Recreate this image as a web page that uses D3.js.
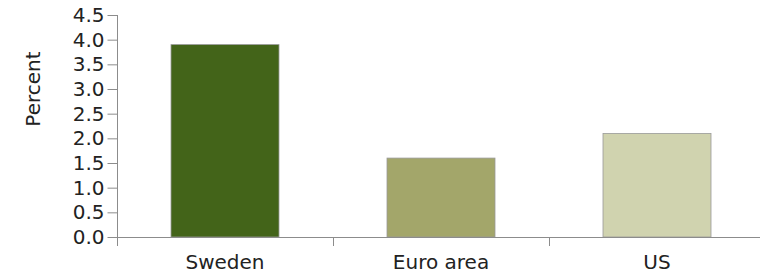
<!DOCTYPE html>
<html>
<head>
<meta charset="utf-8">
<script src="https://cdn.jsdelivr.net/npm/d3@7"></script>
<style>
  body { margin: 0; background: #fff; }
  text { font-family: "DejaVu Sans", Verdana, sans-serif; fill: #222; }
</style>
</head>
<body>
<div id="chart"></div>
<script>
var categories = ["Sweden", "Euro area", "US"];
var values = [3.9, 1.6, 2.1];
var colors = ["#436419", "#a3a66a", "#d0d3af"];
var yTicks = [0, 0.5, 1, 1.5, 2, 2.5, 3, 3.5, 4, 4.5];

var width = 760, height = 274;
var axisColor = "#8c8c8c";

var svg = d3.select("#chart").append("svg")
  .attr("width", width)
  .attr("height", height);

var x = d3.scaleBand()
  .domain(categories)
  .range([117, 765]);

var y = d3.scaleLinear()
  .domain([0, 4.5])
  .range([237, 15]);

var barW = x.bandwidth() * 0.5;

// bars
svg.selectAll("rect.bar")
  .data(values)
  .enter().append("rect")
  .attr("class", "bar")
  .attr("x", function(d, i) { return x(categories[i]) + x.bandwidth() / 2 - barW / 2; })
  .attr("y", function(d) { return y(d); })
  .attr("width", barW)
  .attr("height", function(d) { return y(0) - y(d); })
  .attr("fill", function(d, i) { return colors[i]; })
  .attr("stroke", "#9a9a9a")
  .attr("stroke-width", 0.8);

// y axis
var yAxis = svg.append("g")
  .attr("transform", "translate(117.5,0)")
  .call(d3.axisLeft(y).tickValues(yTicks).tickFormat(d3.format(".1f")).tickSize(10).tickPadding(3));
yAxis.select(".domain").remove();
yAxis.selectAll(".tick line").attr("stroke", axisColor);
yAxis.selectAll(".tick text")
  .style("font-size", "20px")
  .attr("fill", "#222");

svg.append("line")
  .attr("x1", 117.5).attr("x2", 117.5)
  .attr("y1", y(4.5)).attr("y2", 246)
  .attr("stroke", axisColor);

// x axis
svg.append("line")
  .attr("x1", 117).attr("x2", width)
  .attr("y1", y(0) + 0.5).attr("y2", y(0) + 0.5)
  .attr("stroke", axisColor);

svg.selectAll("line.cat")
  .data(categories.slice(1))
  .enter().append("line")
  .attr("class", "cat")
  .attr("x1", function(d) { return Math.round(x(d)) + 0.5; })
  .attr("x2", function(d) { return Math.round(x(d)) + 0.5; })
  .attr("y1", y(0))
  .attr("y2", 246)
  .attr("stroke", axisColor);

svg.selectAll("text.cat")
  .data(categories)
  .enter().append("text")
  .attr("class", "cat")
  .attr("x", function(d) { return x(d) + x.bandwidth() / 2; })
  .attr("y", 269)
  .attr("text-anchor", "middle")
  .style("font-size", "20px")
  .text(function(d) { return d; });

// y label
svg.append("text")
  .attr("transform", "translate(40,89) rotate(-90)")
  .attr("text-anchor", "middle")
  .style("font-size", "20px")
  .text("Percent");
</script>
</body>
</html>
